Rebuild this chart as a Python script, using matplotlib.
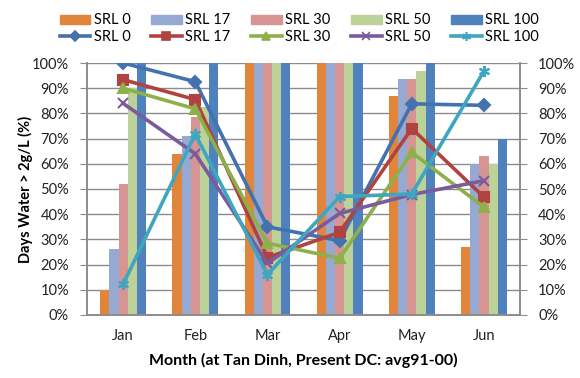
import numpy as np
import matplotlib.pyplot as plt
from matplotlib.patches import Patch
from matplotlib.lines import Line2D
from matplotlib.ticker import PercentFormatter


# ============================================================
# DATOS
# ============================================================

months = ["Jan", "Feb", "Mar", "Apr", "May", "Jun"]
series_names = ["SRL 0", "SRL 17", "SRL 30", "SRL 50", "SRL 100"]

# barras (%)
bar_srl0 = [10, 64, 100, 100, 87, 27]
bar_srl17 = [26, 71, 100, 100, 93.5, 60]
bar_srl30 = [52, 78.5, 100, 100, 93.5, 63]
bar_srl50 = [90, 82.5, 100, 100, 97, 60]
bar_srl100 = [100, 100, 100, 100, 100, 70]

# lineas (%)
line_srl0 = [100, 92.6, 35, 29.5, 83.8, 83.2]
line_srl17 = [93.4, 85.5, 22.8, 32.8, 74, 46.8]
line_srl30 = [90, 81.8, 28.5, 22.5, 64.5, 42.8]
line_srl50 = [84, 64, 20.5, 40.3, 47.8, 53.3]
line_srl100 = [12.2, 71.8, 16, 47, 48, 96.8]

bar_colors = ["#E0853A", "#95A9D2", "#D69493", "#BCD299", "#4F81BD"]
line_colors = ["#4472AE", "#B0433F", "#8DB04A", "#7A5B9C", "#3FA6BF"]
markers = ["D", "s", "^", "x", (6, 2, 0)]
marker_sizes = [6, 7, 7, 7, 8]

FONT = "Lato"
GRID_COLOR = "#8C8C8C"

# ============================================================
# FIGURA
# ============================================================

plt.rcParams["font.family"] = [FONT, "DejaVu Sans"]

fig = plt.figure(figsize=(5.8, 3.78), dpi=100)
ax = fig.add_axes([0.15, 0.1667, 0.7466, 0.6666])

x = np.arange(len(months))
bar_width = 0.127
bars = [bar_srl0, bar_srl17, bar_srl30, bar_srl50, bar_srl100]
lines = [line_srl0, line_srl17, line_srl30, line_srl50, line_srl100]

for i, (vals, col) in enumerate(zip(bars, bar_colors)):
    ax.bar(x + (i - 2) * bar_width, vals, width=bar_width, color=col,
           zorder=2, linewidth=0)

ax.set_xlim(-0.5, len(months) - 0.5)
ax.set_ylim(0, 100)
ax.set_yticks(np.arange(0, 101, 10))
ax.yaxis.set_major_formatter(PercentFormatter(decimals=0))
ax.set_xticks(x)
ax.set_xticklabels(months)
ax.grid(axis="y", color=GRID_COLOR, linewidth=1, zorder=0)
ax.set_axisbelow(True)

ax2 = ax.twinx()
ax2.set_ylim(0, 100)
ax2.set_yticks(np.arange(0, 101, 10))
ax2.yaxis.set_major_formatter(PercentFormatter(decimals=0))

for vals, col, mk, ms in zip(lines, line_colors, markers, marker_sizes):
    ax2.plot(x, vals, color=col, linewidth=2.6, marker=mk, markersize=ms,
             markeredgecolor=col, markeredgewidth=1.5, zorder=3)

for a in (ax, ax2):
    for side in ["top", "left", "right", "bottom"]:
        a.spines[side].set_color(GRID_COLOR)
        a.spines[side].set_linewidth(1.2)
    a.spines["top"].set_visible(False)
    a.tick_params(axis="y", length=5, color=GRID_COLOR, labelsize=10.5,
                  pad=8, labelcolor="#222222")
    a.tick_params(axis="x", length=0, labelsize=10.5, pad=10,
                  labelcolor="#222222")

ax.set_ylabel("Days Water > 2g/L (%)", fontsize=10.5, fontweight="bold",
              labelpad=-1)
ax.set_xlabel("Month (at Tan Dinh, Present DC: avg91-00)", fontsize=11.5,
              fontweight="bold", labelpad=7)

# leyendas
bar_handles = [Patch(color=c) for c in bar_colors]
line_handles = [Line2D([0], [0], color=c, linewidth=2.6, marker=m,
                       markersize=ms * 0.8, markeredgewidth=1.2)
                for c, m, ms in zip(line_colors, markers, marker_sizes)]

leg_kw = dict(loc="center left", ncol=5, frameon=False, fontsize=10.5,
              handlelength=2.1, handletextpad=0.25, columnspacing=1.4,
              borderpad=0, borderaxespad=0)
fig.legend(bar_handles, series_names, bbox_to_anchor=(0.103, 0.946),
           handleheight=0.6, **leg_kw)
fig.legend(line_handles, series_names, bbox_to_anchor=(0.103, 0.902),
           **leg_kw)

fig.savefig("out.png", dpi=100)
